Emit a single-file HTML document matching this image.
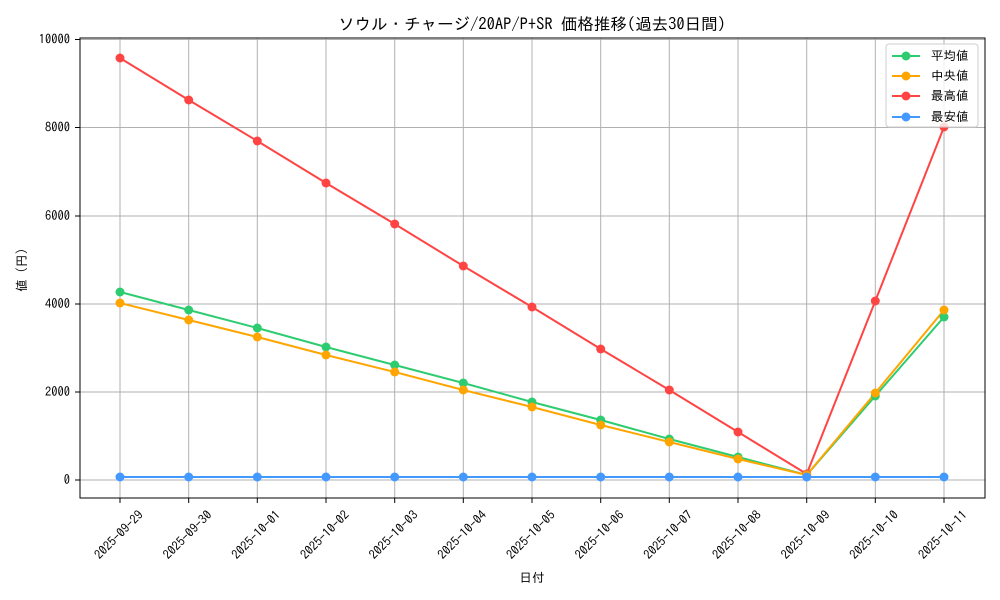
<!DOCTYPE html>
<html><head><meta charset="utf-8"><style>body{margin:0;background:#fff}svg{display:block;font-family:"IPAGothic","Liberation Mono",monospace}</style></head>
<body>
<svg width="1000" height="600" viewBox="0 0 1000 600" xmlns="http://www.w3.org/2000/svg">
<rect width="1000" height="600" fill="#fff"/>
<g stroke="#b0b0b0" stroke-width="1">
<line x1="120" y1="38" x2="120" y2="498"/><line x1="188.7" y1="38" x2="188.7" y2="498"/><line x1="257.3" y1="38" x2="257.3" y2="498"/><line x1="326" y1="38" x2="326" y2="498"/><line x1="394.7" y1="38" x2="394.7" y2="498"/><line x1="463.3" y1="38" x2="463.3" y2="498"/><line x1="532" y1="38" x2="532" y2="498"/><line x1="600.7" y1="38" x2="600.7" y2="498"/><line x1="669.3" y1="38" x2="669.3" y2="498"/><line x1="738" y1="38" x2="738" y2="498"/><line x1="806.7" y1="38" x2="806.7" y2="498"/><line x1="875.3" y1="38" x2="875.3" y2="498"/><line x1="944" y1="38" x2="944" y2="498"/>
<line x1="80" y1="480" x2="985" y2="480"/><line x1="80" y1="392" x2="985" y2="392"/><line x1="80" y1="304" x2="985" y2="304"/><line x1="80" y1="216" x2="985" y2="216"/><line x1="80" y1="127.5" x2="985" y2="127.5"/><line x1="80" y1="39.5" x2="985" y2="39.5"/>
</g>
<rect x="80" y="38" width="905" height="460" fill="none" stroke="#000" stroke-width="1"/>
<g stroke="#000"><line x1="75" y1="480" x2="80" y2="480"/><line x1="75" y1="392" x2="80" y2="392"/><line x1="75" y1="304" x2="80" y2="304"/><line x1="75" y1="216" x2="80" y2="216"/><line x1="75" y1="127.5" x2="80" y2="127.5"/><line x1="75" y1="39.5" x2="80" y2="39.5"/>
<line x1="120" y1="498" x2="120" y2="503"/><line x1="188.7" y1="498" x2="188.7" y2="503"/><line x1="257.3" y1="498" x2="257.3" y2="503"/><line x1="326" y1="498" x2="326" y2="503"/><line x1="394.7" y1="498" x2="394.7" y2="503"/><line x1="463.3" y1="498" x2="463.3" y2="503"/><line x1="532" y1="498" x2="532" y2="503"/><line x1="600.7" y1="498" x2="600.7" y2="503"/><line x1="669.3" y1="498" x2="669.3" y2="503"/><line x1="738" y1="498" x2="738" y2="503"/><line x1="806.7" y1="498" x2="806.7" y2="503"/><line x1="875.3" y1="498" x2="875.3" y2="503"/><line x1="944" y1="498" x2="944" y2="503"/></g>
<g font-size="12.5" text-anchor="end" fill="#000"><text x="70" y="484">0</text><text x="70" y="396">2000</text><text x="70" y="308">4000</text><text x="70" y="220">6000</text><text x="70" y="131.5">8000</text><text x="70" y="43.5">10000</text></g>
<g font-size="12.5" text-anchor="middle" fill="#000">
<text transform="translate(119,535) rotate(-45)" dy="4">2025-09-29</text><text transform="translate(187.7,535) rotate(-45)" dy="4">2025-09-30</text><text transform="translate(256.3,535) rotate(-45)" dy="4">2025-10-01</text><text transform="translate(325,535) rotate(-45)" dy="4">2025-10-02</text><text transform="translate(393.7,535) rotate(-45)" dy="4">2025-10-03</text><text transform="translate(462.3,535) rotate(-45)" dy="4">2025-10-04</text><text transform="translate(531,535) rotate(-45)" dy="4">2025-10-05</text><text transform="translate(599.7,535) rotate(-45)" dy="4">2025-10-06</text><text transform="translate(668.3,535) rotate(-45)" dy="4">2025-10-07</text><text transform="translate(737,535) rotate(-45)" dy="4">2025-10-08</text><text transform="translate(805.7,535) rotate(-45)" dy="4">2025-10-09</text><text transform="translate(874.3,535) rotate(-45)" dy="4">2025-10-10</text><text transform="translate(943,535) rotate(-45)" dy="4">2025-10-11</text>
</g>
<text x="532" y="582" font-size="12.5" text-anchor="middle">日付</text>
<text transform="translate(26,270) rotate(-90)" font-size="12.5" text-anchor="middle">値 (円)</text>
<text x="532" y="30" font-size="16.5" text-anchor="middle">ソウル・チャージ/20AP/P+SR 価格推移(過去30日間)</text>
<g fill="none" stroke-width="2">
<polyline stroke="#ff4444" points="120,58 188.7,100 257.3,141 326,183 394.7,224 463.3,266 532,307 600.7,349 669.3,390 738,432 806.7,474 875.3,301 944,127"/>
<polyline stroke="#2ecc71" points="120,292 188.7,310 257.3,328 326,347 394.7,365 463.3,383 532,402 600.7,420 669.3,439 738,457 806.7,475 875.3,396 944,317"/>
<polyline stroke="#ffa500" points="120,303 188.7,320 257.3,337 326,355 394.7,372 463.3,390 532,407 600.7,425 669.3,442 738,459 806.7,475 875.3,393 944,310"/>
<polyline stroke="#4499ff" points="120,477 944,477"/>
</g>
<g fill="#ff4444"><circle cx="120" cy="58" r="4.5"/><circle cx="188.7" cy="100" r="4.5"/><circle cx="257.3" cy="141" r="4.5"/><circle cx="326" cy="183" r="4.5"/><circle cx="394.7" cy="224" r="4.5"/><circle cx="463.3" cy="266" r="4.5"/><circle cx="532" cy="307" r="4.5"/><circle cx="600.7" cy="349" r="4.5"/><circle cx="669.3" cy="390" r="4.5"/><circle cx="738" cy="432" r="4.5"/><circle cx="806.7" cy="474" r="4.5"/><circle cx="875.3" cy="301" r="4.5"/><circle cx="944" cy="127" r="4.5"/></g>
<g fill="#2ecc71"><circle cx="120" cy="292" r="4.5"/><circle cx="188.7" cy="310" r="4.5"/><circle cx="257.3" cy="328" r="4.5"/><circle cx="326" cy="347" r="4.5"/><circle cx="394.7" cy="365" r="4.5"/><circle cx="463.3" cy="383" r="4.5"/><circle cx="532" cy="402" r="4.5"/><circle cx="600.7" cy="420" r="4.5"/><circle cx="669.3" cy="439" r="4.5"/><circle cx="738" cy="457" r="4.5"/><circle cx="806.7" cy="475" r="4.5"/><circle cx="875.3" cy="396" r="4.5"/><circle cx="944" cy="317" r="4.5"/></g>
<g fill="#ffa500"><circle cx="120" cy="303" r="4.5"/><circle cx="188.7" cy="320" r="4.5"/><circle cx="257.3" cy="337" r="4.5"/><circle cx="326" cy="355" r="4.5"/><circle cx="394.7" cy="372" r="4.5"/><circle cx="463.3" cy="390" r="4.5"/><circle cx="532" cy="407" r="4.5"/><circle cx="600.7" cy="425" r="4.5"/><circle cx="669.3" cy="442" r="4.5"/><circle cx="738" cy="459" r="4.5"/><circle cx="806.7" cy="475" r="4.5"/><circle cx="875.3" cy="393" r="4.5"/><circle cx="944" cy="310" r="4.5"/></g>
<g fill="#4499ff"><circle cx="120" cy="477" r="4.5"/><circle cx="188.7" cy="477" r="4.5"/><circle cx="257.3" cy="477" r="4.5"/><circle cx="326" cy="477" r="4.5"/><circle cx="394.7" cy="477" r="4.5"/><circle cx="463.3" cy="477" r="4.5"/><circle cx="532" cy="477" r="4.5"/><circle cx="600.7" cy="477" r="4.5"/><circle cx="669.3" cy="477" r="4.5"/><circle cx="738" cy="477" r="4.5"/><circle cx="806.7" cy="477" r="4.5"/><circle cx="875.3" cy="477" r="4.5"/><circle cx="944" cy="477" r="4.5"/></g>
<rect x="886" y="44" width="92" height="83" rx="3" fill="#fff" fill-opacity="0.8" stroke="#ccc"/>
<g stroke-width="2"><line x1="892" y1="56" x2="920" y2="56" stroke="#2ecc71"/><line x1="892" y1="76" x2="920" y2="76" stroke="#ffa500"/><line x1="892" y1="96" x2="920" y2="96" stroke="#ff4444"/><line x1="892" y1="117" x2="920" y2="117" stroke="#4499ff"/></g>
<circle cx="906" cy="56" r="4.5" fill="#2ecc71"/><circle cx="906" cy="76" r="4.5" fill="#ffa500"/><circle cx="906" cy="96" r="4.5" fill="#ff4444"/><circle cx="906" cy="117" r="4.5" fill="#4499ff"/>
<g font-size="12.5"><text x="931" y="60">平均値</text><text x="931" y="80">中央値</text><text x="931" y="100">最高値</text><text x="931" y="121">最安値</text></g>
</svg>
</body></html>
